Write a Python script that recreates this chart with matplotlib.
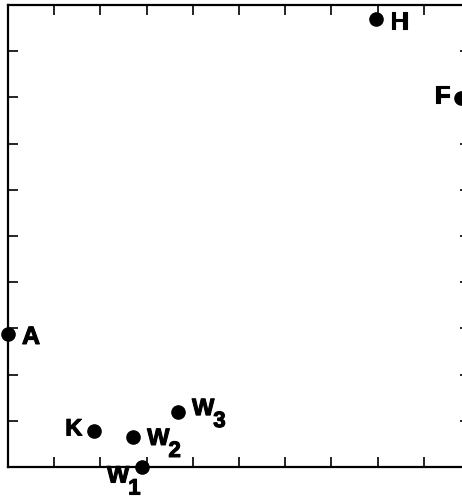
import matplotlib.pyplot as plt
import matplotlib.patheffects as pe

# points (data units, axes run 0..10 on both sides)
names = ['H', 'F', 'A', 'K', 'W1', 'W2', 'W3']
xs = [7.97, 9.80, 0.0, 1.87, 2.90, 2.71, 3.68]
ys = [9.70, 7.99, 2.88, 0.78, 0.0, 0.64, 1.20]

# label placement: (dx px, dy px, ha, size) relative to the point
label_pos = {
    'H': (14, -3, 'left', 18),
    'F': (-11, 2, 'right', 18),
    'A': (14, -3, 'left', 18),
    'K': (-12, 2, 'right', 17),
    'W1': (-35, -9, 'left', 17),
    'W2': (14, -1, 'left', 17),
    'W3': (14, 3, 'left', 17),
}

px = 0.72  # points per pixel at dpi 100
font = 'Liberation Sans'
heavy = [pe.withStroke(linewidth=0.8, foreground='black')]

fig = plt.figure(figsize=(4.62, 5.02), dpi=100)
ax = fig.add_axes([8 / 462, 34 / 502, 462 / 462, 462 / 502])

ax.plot(xs, ys, 'o', color='black', markersize=9.5, clip_on=False, zorder=5)

for n, x, y in zip(names, xs, ys):
    dx, dy, ha, size = label_pos[n]
    t = ax.annotate(n[0], (x, y), xytext=(dx * px, dy * px), textcoords='offset points',
                    ha=ha, va='center', fontsize=size, fontweight='bold', family=font,
                    annotation_clip=False, path_effects=heavy)
    if len(n) > 1:
        # subscript hangs off the lower right of the letter
        ax.annotate(n[1:], xy=(1.0, 0.5), xycoords=t, xytext=(-1 * px, -13 * px),
                    textcoords='offset points', ha='left', va='center',
                    fontsize=16, fontweight='bold', family=font, annotation_clip=False,
                    path_effects=heavy)

ax.set_xlim(0, 10)
ax.set_ylim(0, 10)
ax.set_xticks(range(11))
ax.set_yticks(range(11))
ax.tick_params(direction='in', length=7, width=1.2, top=True, right=True,
               labelbottom=False, labelleft=False)
for s in ax.spines.values():
    s.set_linewidth(1.6)

fig.savefig('out.png', dpi=100)
